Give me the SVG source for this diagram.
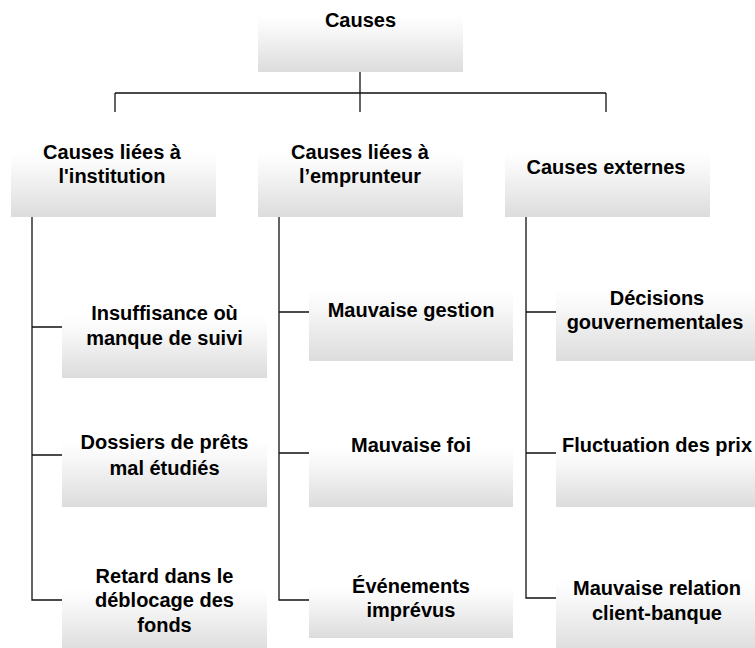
<svg xmlns="http://www.w3.org/2000/svg" width="755" height="648" viewBox="0 0 755 648">
<defs>
<linearGradient id="g" x1="0" y1="0" x2="0" y2="1">
<stop offset="0" stop-color="#ffffff"/>
<stop offset="0.25" stop-color="#f8f8f8"/>
<stop offset="1" stop-color="#dcdcdc"/>
</linearGradient>
<style>
.box{fill:url(#g);stroke:none}
.t{font-family:"Liberation Sans",Arial,sans-serif;font-weight:bold;font-size:20px;fill:#000;text-anchor:middle}
.c{fill:none;stroke:#111;stroke-width:1.3}
</style>
</defs>
<rect width="755" height="648" fill="#fff"/>
<g id="connectors">
<path class="c" d="M360,72V112M115,93H606M115,93V112M606,93V112"/>
<path class="c" d="M32,217V600H62M32,327H62M32,455H62"/>
<path class="c" d="M279,217V600H309M279,312H309M279,453H309"/>
<path class="c" d="M526,217V598H556M526,312H556M526,453H556"/>
</g>
<g id="root"><rect class="box" x="258" y="15" width="205" height="57"/><text class="t" x="360.5" y="27">Causes</text></g>
<g id="inst"><rect class="box" x="11" y="152" width="205" height="65"/><text class="t" x="112" y="159">Causes liées à</text><text class="t" x="112" y="183">l'institution</text></g>
<g id="empr"><rect class="box" x="258" y="152" width="205" height="65"/><text class="t" x="360" y="159">Causes liées à</text><text class="t" x="360" y="183">l’emprunteur</text></g>
<g id="ext"><rect class="box" x="505" y="152" width="205" height="65"/><text class="t" x="606" y="174">Causes externes</text></g>
<g id="insuf"><rect class="box" x="62" y="316" width="205" height="62"/><text class="t" x="164.5" y="320">Insuffisance où</text><text class="t" x="164.5" y="345">manque de suivi</text></g>
<g id="dossiers"><rect class="box" x="62" y="441" width="205" height="66"/><text class="t" x="164.5" y="449">Dossiers de prêts</text><text class="t" x="164.5" y="475">mal étudiés</text></g>
<g id="retard"><rect class="box" x="62" y="588" width="205" height="64"/><text class="t" x="164.5" y="583">Retard dans le</text><text class="t" x="164.5" y="607">déblocage des</text><text class="t" x="164.5" y="632">fonds</text></g>
<g id="gestion"><rect class="box" x="309" y="289" width="204" height="72"/><text class="t" x="411" y="317">Mauvaise gestion</text></g>
<g id="foi"><rect class="box" x="309" y="448" width="204" height="59"/><text class="t" x="411" y="452">Mauvaise foi</text></g>
<g id="evenements"><rect class="box" x="309" y="586" width="204" height="52"/><text class="t" x="411" y="593">Événements</text><text class="t" x="411" y="617">imprévus</text></g>
<g id="decisions"><rect class="box" x="556" y="289" width="205" height="72"/><text class="t" x="657" y="305">Décisions</text><text class="t" x="655" y="329">gouvernementales</text></g>
<g id="fluctuation"><rect class="box" x="556" y="448" width="205" height="59"/><text class="t" x="657" y="452">Fluctuation des prix</text></g>
<g id="relation"><rect class="box" x="556" y="579" width="205" height="74"/><text class="t" x="657" y="595">Mauvaise relation</text><text class="t" x="657" y="620">client-banque</text></g>
</svg>
